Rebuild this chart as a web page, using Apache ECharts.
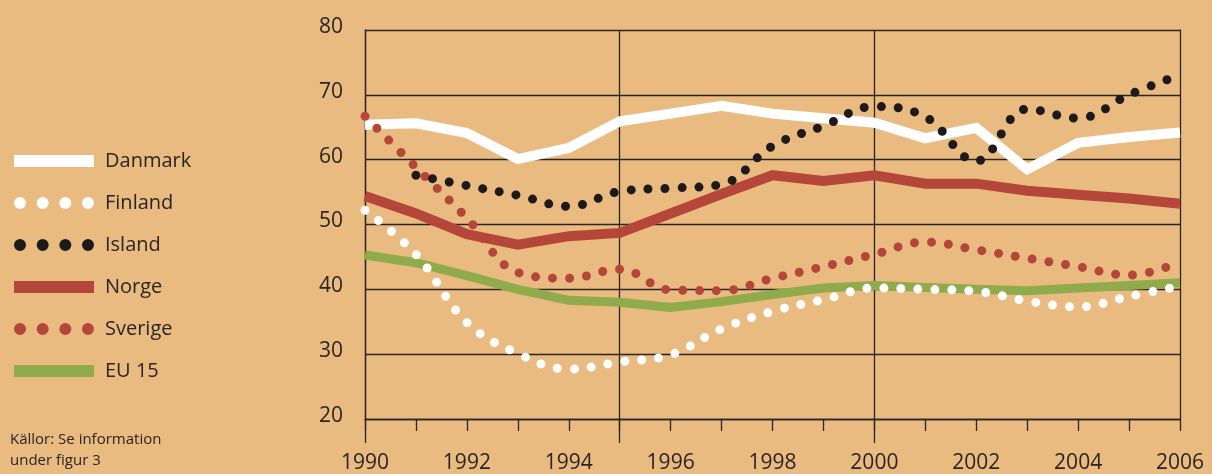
<!DOCTYPE html>
<html>
<head>
<meta charset="utf-8">
<script src="https://cdn.jsdelivr.net/npm/echarts@6/dist/echarts.min.js"></script>
<style>
  html, body { margin: 0; padding: 0; background: #e9bb80; }
  #chart { width: 1212px; height: 474px; }
</style>
</head>
<body>
<div id="chart"></div>
<script>
// Serie per land, 1990-2006
const years = [1990, 1991, 1992, 1993, 1994, 1995, 1996, 1997, 1998, 1999, 2000, 2001, 2002, 2003, 2004, 2005, 2006]
const danmark = [65.4, 65.6, 64.1, 60.1, 61.8, 65.9, 67.1, 68.3, 67.1, 66.4, 65.7, 63.3, 64.9, 58.5, 62.6, 63.5, 64.2]
const finland = [52.2, 45.4, 34.9, 30.1, 27.7, 28.8, 29.9, 33.9, 36.6, 38.4, 40.2, 40.0, 39.7, 38.2, 37.3, 38.9, 40.5]
const island = [null, 57.6, 56.0, 54.5, 52.8, 55.1, 55.6, 56.2, 62.1, 65.2, 68.2, 66.6, 59.8, 67.8, 66.4, 70.0, 73.1]
const norge = [54.4, 51.7, 48.5, 46.9, 48.2, 48.7, 51.7, 54.7, 57.6, 56.7, 57.6, 56.3, 56.3, 55.2, 54.6, 54.0, 53.2]
const sverige = [66.7, 58.8, 51.0, 42.6, 41.7, 43.1, 39.9, 39.8, 41.7, 43.5, 45.4, 47.3, 46.1, 44.8, 43.5, 42.2, 44.2]
const eu15 = [45.3, 44.1, 42.1, 40.0, 38.3, 38.0, 37.2, 38.1, 39.2, 40.2, 40.6, 40.3, 40.0, 39.8, 40.2, 40.6, 41.0]

const xLabels = [1990, 1992, 1994, 1996, 1998, 2000, 2002, 2004, 2006]
const xMajor = [1990, 1995, 2000]

const ink = '#2a2424'
const font = 'Open Sans'

// fyra prickar for legenden
const dots = 'path://M0,6a6,6 0 1,0 12,0a6,6 0 1,0 -12,0' +
  'M22.67,6a6,6 0 1,0 12,0a6,6 0 1,0 -12,0' +
  'M45.33,6a6,6 0 1,0 12,0a6,6 0 1,0 -12,0' +
  'M68,6a6,6 0 1,0 12,0a6,6 0 1,0 -12,0'

function pairs (arr) {
  return years.map((y, i) => [y, arr[i]])
}

function solid (name, arr, color, width) {
  return {
    name: name,
    type: 'line',
    data: pairs(arr),
    color: color,
    symbol: 'none',
    lineStyle: { color: color, width: width, join: 'miter' },
    z: 2
  }
}

function dotted (name, arr, color) {
  return {
    name: name,
    type: 'line',
    data: pairs(arr),
    color: color,
    symbol: 'none',
    smooth: 0.4,
    lineStyle: { color: color, width: 9, type: [0, 17], cap: 'round' },
    z: 3
  }
}

const myChart = echarts.init(document.getElementById('chart'))
myChart.setOption({
  backgroundColor: '#e9bb80',
  animation: false,
  title: {
    text: 'Källor: Se information\nunder figur 3',
    left: 10,
    top: 429,
    padding: 0,
    textStyle: { fontFamily: font, fontSize: 15, fontWeight: 'normal', color: ink, lineHeight: 21 }
  },
  legend: {
    orient: 'vertical',
    left: 9,
    top: 146,
    itemWidth: 80,
    itemHeight: 12,
    itemGap: 22,
    itemStyle: { borderWidth: 0 },
    textStyle: { fontFamily: font, fontSize: 20, color: ink, padding: [0, 0, 0, 6] },
    data: [
      { name: 'Danmark', icon: 'rect' },
      { name: 'Finland', icon: dots },
      { name: 'Island', icon: dots },
      { name: 'Norge', icon: 'rect' },
      { name: 'Sverige', icon: dots },
      { name: 'EU 15', icon: 'rect' }
    ]
  },
  grid: { left: 365, right: 32, top: 30, bottom: 53 },
  xAxis: [
    {
      type: 'value',
      min: 1990,
      max: 2006,
      interval: 1,
      axisLine: { show: true, lineStyle: { color: ink, width: 1.3 } },
      axisTick: { show: true, length: 12, lineStyle: { color: ink, width: 1.3 } },
      splitLine: { show: false },
      axisLabel: {
        customValues: xLabels,
        formatter: v => String(v),
        margin: 34,
        fontFamily: font,
        fontSize: 21,
        color: ink
      }
    },
    {
      type: 'value',
      min: 1990,
      max: 2006,
      position: 'bottom',
      axisLine: { show: false },
      axisTick: { show: true, customValues: xMajor, length: 24, lineStyle: { color: ink, width: 1.3 } },
      splitLine: { show: true, lineStyle: { color: ink, width: 1.3 } },
      axisLabel: { show: false }
    }
  ],
  yAxis: [
    {
      type: 'value',
      min: 20,
      max: 80,
      interval: 10,
      axisLine: { show: true, lineStyle: { color: ink, width: 1.3 } },
      axisTick: { show: false },
      splitLine: { show: true, lineStyle: { color: ink, width: 1.3 } },
      axisLabel: {
        margin: 22,
        verticalAlign: 'bottom',
        lineHeight: 6,
        fontFamily: font,
        fontSize: 21,
        color: ink
      }
    },
    {
      type: 'value',
      min: 20,
      max: 80,
      position: 'right',
      axisLine: { show: true, lineStyle: { color: ink, width: 1.3 } },
      axisTick: { show: false },
      splitLine: { show: false },
      axisLabel: { show: false }
    }
  ],
  series: [
    solid('Danmark', danmark, '#ffffff', 10),
    solid('Norge', norge, '#b5473a', 10),
    solid('EU 15', eu15, '#8fab4c', 9),
    dotted('Finland', finland, '#ffffff'),
    dotted('Sverige', sverige, '#b5473a'),
    dotted('Island', island, '#1e1a1b')
  ]
})
window.addEventListener('resize', () => {
  myChart.resize()
})
</script>
</body>
</html>
